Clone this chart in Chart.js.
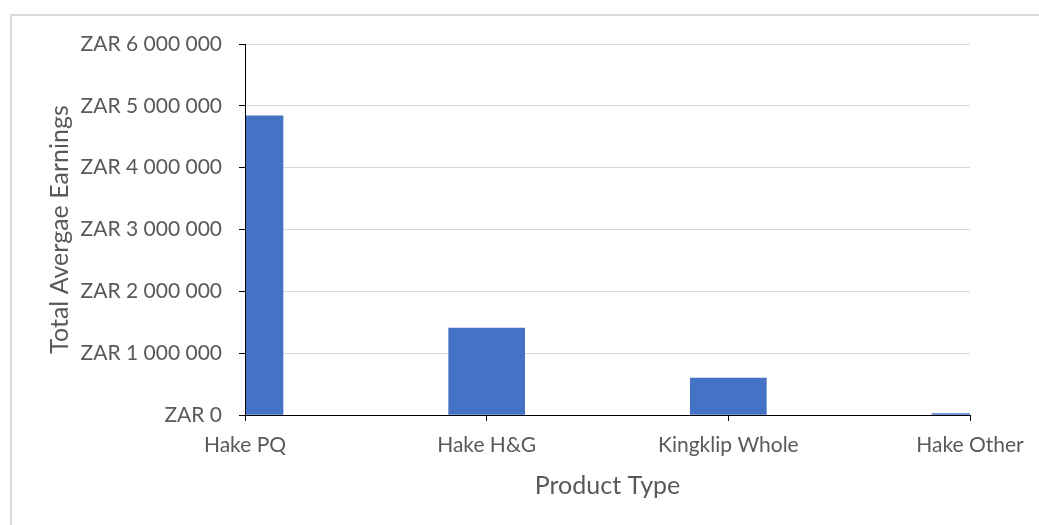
<!DOCTYPE html>
<html lang="en">
  <head>
    <meta charset="UTF-8" />
    <title>Total Average Earnings by Product Type</title>
    <script src="https://cdn.jsdelivr.net/npm/chart.js@4.4.1/dist/chart.umd.min.js"></script>
  </head>
  <style>
    body{
      margin: 0;
      background: #fff;
      overflow: hidden;
    }
    .frame{
      position: absolute;
      left: 10px;
      top: 14px;
      width: 1100px;
      height: 600px;
      border: 2px solid #d9d9d9;
    }
    .mainBox{
      position: absolute;
      left: 0;
      top: 0;
      width: 1039px;
      height: 525px;
    }
  </style>
  <body>
    <div class="frame"></div>
    <div class="mainBox">
      <canvas id="myChart"></canvas>
    </div>

  <script>
    var categories = ['Hake PQ', 'Hake H&G', 'Kingklip Whole', 'Hake Other'];
    var earnings = [4840000, 1405000, 597000, 22000];
    var yTicks = [0, 1000000, 2000000, 3000000, 4000000, 5000000, 6000000];

    var textColor = '#595959';
    var fontName = 'Lato';

    function zar(v) {
      // ZAR 1 000 000 style
      return 'ZAR ' + String(v).replace(/\B(?=(\d{3})+(?!\d))/g, ' ');
    }

    var ctx = document.getElementById('myChart');
    var chart = new Chart(ctx, {
      type: 'bar',
      data: {
        labels: categories,
        datasets: [{
          label: 'Total Avergae Earnings',
          data: earnings,
          backgroundColor: '#4472c4',
          borderWidth: 0,
          barThickness: 76
        }]
      },
      options: {
        responsive: true,
        maintainAspectRatio: false,
        animation: false,
        layout: {
          padding: { left: 0, right: 69, top: 44, bottom: 0 }
        },
        plugins: {
          legend: { display: false },
          tooltip: { enabled: false }
        },
        scales: {
          x: {
            offset: false,
            afterFit: function(scale) { scale.height = 110; },
            grid: {
              offset: false,
              drawOnChartArea: false,
              tickLength: 6,
              tickColor: '#000'
            },
            border: { color: '#000', width: 1, z: 1 },
            ticks: {
              color: textColor,
              padding: 12,
              maxRotation: 0,
              font: { family: fontName, size: 21 }
            },
            title: {
              display: true,
              text: 'Product Type',
              color: textColor,
              padding: { top: 0, bottom: 24 },
              font: { family: fontName, size: 25 }
            }
          },
          y: {
            min: 0,
            max: 6000000,
            afterFit: function(scale) { scale.width = 245; },
            afterBuildTicks: function(scale) {
              scale.ticks = yTicks.map(function(v) { return { value: v }; });
            },
            grid: {
              color: '#d9d9d9',
              tickLength: 6,
              tickColor: '#000'
            },
            border: { color: '#000', width: 1, z: 1 },
            ticks: {
              color: textColor,
              padding: 17,
              font: { family: fontName, size: 21 },
              callback: function(v) { return zar(v); }
            },
            title: {
              display: true,
              text: 'Total Avergae Earnings',
              color: textColor,
              padding: { top: 45, bottom: 0 },
              font: { family: fontName, size: 25 }
            }
          }
        }
      }
    });
  </script>
  </body>
</html>
